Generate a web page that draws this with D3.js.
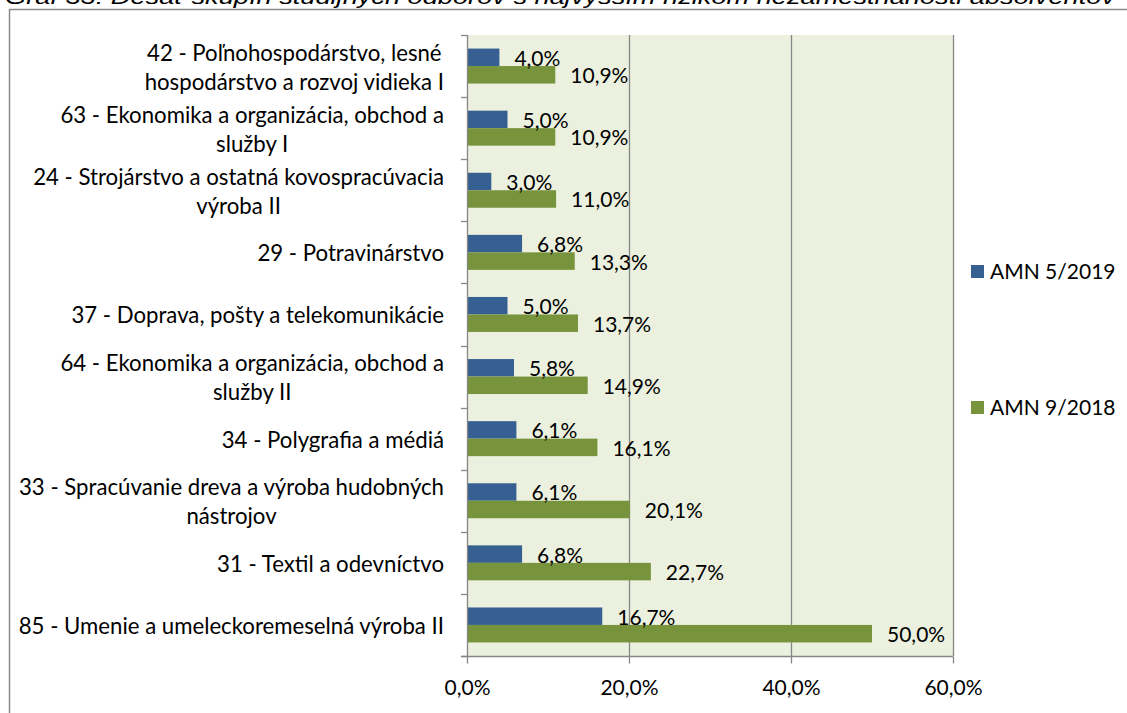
<!DOCTYPE html>
<html>
<head>
<meta charset="utf-8">
<script src="https://cdn.jsdelivr.net/npm/d3@7"></script>
<style>
  html, body { margin: 0; padding: 0; background: #fff; }
  svg { display: block; }
  text { font-family: Lato, "Open Sans", sans-serif; fill: #000; }
</style>
</head>
<body>
<svg id="chart" width="1127" height="713"></svg>
<script>
// categories (each one split into its printed lines)
const categories = [
  ['42 - Poľnohospodárstvo, lesné', 'hospodárstvo a rozvoj vidieka I'],
  ['63 - Ekonomika a organizácia, obchod a', 'služby I'],
  ['24 - Strojárstvo a ostatná kovospracúvacia', 'výroba II'],
  ['29 - Potravinárstvo'],
  ['37 - Doprava, pošty a telekomunikácie'],
  ['64 - Ekonomika a organizácia, obchod a', 'služby II'],
  ['34 - Polygrafia a médiá'],
  ['33 - Spracúvanie dreva a výroba hudobných', 'nástrojov'],
  ['31 - Textil a odevníctvo'],
  ['85 - Umenie a umeleckoremeselná výroba II']
];
const seriesNames = ['AMN 5/2019', 'AMN 9/2018'];
const amn2019 = [4.0, 5.0, 3.0, 6.8, 5.0, 5.8, 6.1, 6.1, 6.8, 16.7];
const amn2018 = [10.9, 10.9, 11.0, 13.3, 13.7, 14.9, 16.1, 20.1, 22.7, 50.0];
const xTicks = [0, 20, 40, 60];
const title = 'Graf 33: Desať skupín študijných odborov s najvyšším rizikom nezamestnanosti absolventov';

const colors = ['#376092', '#77933C'];
const fontSize = 21;
const fmt = (v) => v.toFixed(1).replace('.', ',') + '%';

const plotLeft = 467, plotRight = 953, plotTop = 35, plotBottom = 656;

const svg = d3.select('#chart');

// outer frame (cut off on the right and bottom)
svg.append('rect')
  .attr('x', 9.5).attr('y', 9.5)
  .attr('width', 1200).attr('height', 800)
  .attr('fill', '#fff').attr('stroke', '#8a8a8a').attr('stroke-width', 1.5);

// title, mostly cut off by the top edge (as in the source)
svg.append('text')
  .attr('x', 5).attr('y', 4)
  .attr('font-style', 'italic')
  .attr('font-size', 20)
  .attr('textLength', 1110)
  .attr('lengthAdjust', 'spacingAndGlyphs')
  .style('font-family', '"Liberation Sans", Arial, sans-serif')
  .text(title);

const x = d3.scaleLinear().domain([0, 60]).range([plotLeft, plotRight]);
const y = d3.scaleBand().domain(d3.range(categories.length)).range([plotTop, plotBottom]);
const ySub = d3.scaleBand().domain([0, 1]).range([0, y.bandwidth()])
  .paddingInner(0).paddingOuter(0.775);

// plot background
svg.append('rect')
  .attr('x', plotLeft).attr('y', plotTop)
  .attr('width', plotRight - plotLeft).attr('height', plotBottom - plotTop)
  .attr('fill', '#EBF1DE');

// vertical gridlines
svg.append('g')
  .selectAll('line')
  .data(xTicks.slice(1))
  .join('line')
  .attr('x1', (d) => Math.round(x(d)) + 0.5)
  .attr('x2', (d) => Math.round(x(d)) + 0.5)
  .attr('y1', plotTop).attr('y2', plotBottom)
  .attr('stroke', '#868686').attr('stroke-width', 1.3);

// bars
const rows = categories.map((c, i) => ({ i, values: [amn2019[i], amn2018[i]] }));
const groups = svg.append('g')
  .selectAll('g.cat')
  .data(rows)
  .join('g')
  .classed('cat', true)
  .attr('transform', (d) => `translate(0,${y(d.i)})`);

groups.selectAll('rect')
  .data((d) => d.values.map((v, s) => ({ v, s })))
  .join('rect')
  .attr('x', x(0))
  .attr('y', (d) => ySub(d.s))
  .attr('width', (d) => x(d.v) - x(0))
  .attr('height', ySub.bandwidth())
  .attr('fill', (d) => colors[d.s]);

groups.selectAll('text.val')
  .data((d) => d.values.map((v, s) => ({ v, s })))
  .join('text')
  .classed('val', true)
  .attr('x', (d) => x(d.v) + 15)
  .attr('y', (d) => ySub(d.s) + ySub.bandwidth() / 2 + 8.5)
  .attr('font-size', fontSize)
  .text((d) => fmt(d.v));

// x axis
const xAxis = svg.append('g')
  .attr('transform', `translate(0,${plotBottom + 0.5})`)
  .call(d3.axisBottom(x).tickValues(xTicks).tickFormat(fmt).tickSizeInner(7).tickSizeOuter(0));
xAxis.attr('font-family', null).attr('font-size', null);
xAxis.select('.domain').attr('stroke', '#868686').attr('stroke-width', 1.3)
  .attr('d', `M${plotLeft - 6},0H${plotRight}`);
xAxis.selectAll('.tick line').attr('stroke', '#868686').attr('stroke-width', 1.3);
xAxis.selectAll('.tick text')
  .attr('font-size', fontSize)
  .attr('y', 24)
  .attr('dy', '0.71em');

// y axis line with ticks at the band boundaries
const yAxis = svg.append('g');
yAxis.append('line')
  .attr('x1', plotLeft + 0.5).attr('x2', plotLeft + 0.5)
  .attr('y1', plotTop).attr('y2', plotBottom)
  .attr('stroke', '#868686').attr('stroke-width', 1.3);
yAxis.selectAll('line.tick')
  .data(d3.range(categories.length + 1))
  .join('line')
  .classed('tick', true)
  .attr('x1', plotLeft - 6).attr('x2', plotLeft)
  .attr('y1', (d) => Math.round(d < categories.length ? y(d) : plotBottom) + 0.5)
  .attr('y2', (d) => Math.round(d < categories.length ? y(d) : plotBottom) + 0.5)
  .attr('stroke', '#868686').attr('stroke-width', 1.3);

// category labels: block right-aligned, lines centred inside the block
const lineH = 29, labelRight = 444;
const labels = svg.append('g')
  .selectAll('g.lab')
  .data(categories)
  .join('g')
  .classed('lab', true);
labels.each(function (lines, i) {
  const g = d3.select(this);
  const cy = y(i) + y.bandwidth() / 2;
  const t = g.selectAll('text')
    .data(lines)
    .join('text')
    .attr('font-size', 22.2)
    .attr('y', (d, k) => cy + 9 + (k - (lines.length - 1) / 2) * lineH)
    .attr('text-anchor', 'middle')
    .text((d) => d);
  let w = 0;
  t.each(function () { w = Math.max(w, this.getComputedTextLength()); });
  t.attr('x', labelRight - w / 2);
});

// legend
const legend = svg.append('g')
  .selectAll('g')
  .data(seriesNames)
  .join('g')
  .attr('transform', (d, i) => `translate(971,${265 + i * 136})`);
legend.append('rect')
  .attr('width', 13).attr('height', 13)
  .attr('fill', (d, i) => colors[i]);
legend.append('text')
  .attr('x', 19).attr('y', 14)
  .attr('font-size', fontSize)
  .text((d) => d);
</script>
</body>
</html>
